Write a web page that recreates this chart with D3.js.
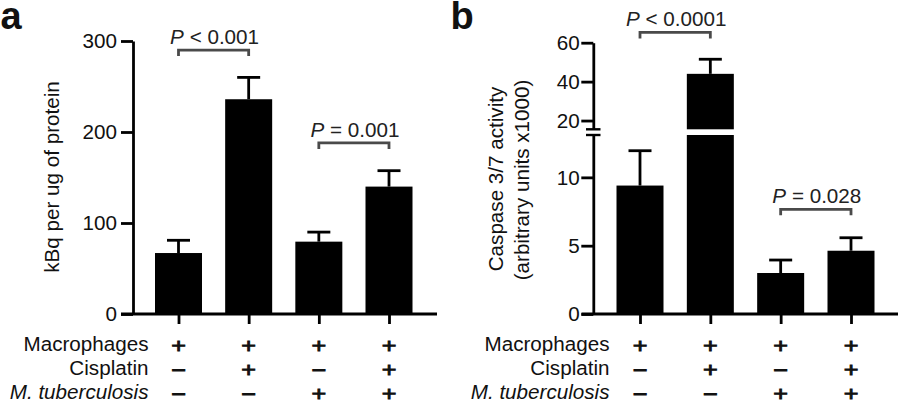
<!DOCTYPE html>
<html><head><meta charset="utf-8">
<script src="https://cdn.jsdelivr.net/npm/d3@7"></script>
<style>
body{margin:0;background:#fff}
svg{display:block}
</style>
</head><body><svg id="c" width="900" height="401"></svg>
<script>
// ---------- data ----------
const groups = ["G1", "G2", "G3", "G4"];
const conditionLabels = ["Macrophages", "Cisplatin", "M. tuberculosis"];
const macrophageSigns = ["+", "+", "+", "+"];
const cisplatinSigns = ["−", "+", "−", "+"];
const tuberculosisSigns = ["−", "−", "+", "+"];

const uptakeMean = [67, 236, 79.5, 140];
const uptakeSEM = [14, 24, 10.5, 17.5];
const uptakeTicks = [0, 100, 200, 300];
const uptakeLabel = "kBq per ug of protein";

const caspaseMean = [9.4, 44, 3.0, 4.63];
const caspaseSEM = [2.55, 7.5, 0.95, 0.95];
const caspaseLowerTicks = [0, 5, 10];
const caspaseUpperTicks = [20, 40, 60];
const caspaseLabel = ["Caspase 3/7 activity", "(arbitrary units x1000)"];

const uptakeComparisons = [[0, 1, "< 0.001", 290], [2, 3, "= 0.001", 188]];
const caspaseComparisons = [[0, 1, "< 0.0001", 65.3], [2, 3, "= 0.028", 7.66]];

// ---------- setup ----------
const FONT = "'Liberation Sans', Arial, Helvetica, sans-serif";
const FS = 19.3, SX = 1.07, TXT = "#111", BR = "#4a4a4a", LW = 2.8;
const svg = d3.select("#c");

function label(g, x, y, str, anchor, italic, rot, size, sx) {
  const t = g.append("text")
    .attr("transform", `translate(${x},${y})${rot ? " rotate(-90)" : ""} scale(${sx || SX},1)`)
    .attr("text-anchor", anchor).attr("font-family", FONT).attr("font-size", size || FS)
    .attr("fill", TXT).text(str);
  if (italic) t.attr("font-style", "italic");
  return t;
}

function styleYAxis(g, pad) {
  g.select(".domain").attr("stroke", "#000").attr("stroke-width", LW);
  g.selectAll(".tick line").attr("stroke", "#000").attr("stroke-width", LW);
  g.selectAll(".tick text").attr("x", null).attr("dy", "0.35em")
    .attr("transform", `translate(${-(12 + pad)},0) scale(${SX},1)`)
    .attr("font-family", FONT).attr("font-size", FS).attr("fill", TXT);
}

function xAxis(x, x0, x1) {
  svg.append("line").attr("x1", x0).attr("x2", x1).attr("y1", 314).attr("y2", 314)
    .attr("stroke", "#000").attr("stroke-width", LW);
  const g = svg.append("g").attr("transform", "translate(0,314)")
    .call(d3.axisBottom(x).tickSize(10).tickFormat(""));
  g.select(".domain").remove();
  g.selectAll(".tick line").attr("stroke", "#000").attr("stroke-width", LW);
}

function rows(x, right) {
  const ys = [350.5, 375, 398.5];
  const signs = [macrophageSigns, cisplatinSigns, tuberculosisSigns];
  conditionLabels.forEach((c, i) => {
    label(svg, right, ys[i], c, "end", i === 2);
    groups.forEach((gname, j) => label(svg, x(gname), ys[i] + 2, signs[i][j], "middle", false, false, 21, 1.2)
      .attr("stroke", TXT).attr("stroke-width", 0.9));
  });
}

function errorBar(cx, yMean, yTop) {
  svg.append("line").attr("x1", cx).attr("x2", cx).attr("y1", yMean).attr("y2", yTop)
    .attr("stroke", "#000").attr("stroke-width", LW);
  svg.append("line").attr("x1", cx - 11.5).attr("x2", cx + 11.5).attr("y1", yTop).attr("y2", yTop)
    .attr("stroke", "#000").attr("stroke-width", LW);
}

function bracket(xa, xb, y, text) {
  svg.append("path").attr("d", `M${xa},${y + 6}V${y}H${xb}V${y + 6}`)
    .attr("fill", "none").attr("stroke", BR).attr("stroke-width", LW);
  const t = svg.append("text")
    .attr("transform", `translate(${(xa + xb) / 2 + 1},${y - 6.3}) scale(${SX},1)`)
    .attr("text-anchor", "middle").attr("font-family", FONT).attr("font-size", FS).attr("fill", "#222");
  t.append("tspan").attr("font-style", "italic").text("P");
  t.append("tspan").text(" " + text);
}

const BW = 47;

// ---------- panel a ----------
svg.append("text").attr("x", 0.5).attr("y", 29).attr("font-family", FONT)
  .attr("font-weight", "bold").attr("font-size", 38).attr("fill", "#111").text("a");

const xa = d3.scalePoint(groups, [178.5, 389]);
const ya = d3.scaleLinear([0, 300], [314, 41]);

svg.selectAll(".barA").data(uptakeMean).join("rect").attr("class", "barA")
  .attr("x", (d, i) => xa(groups[i]) - BW / 2).attr("width", BW)
  .attr("y", d => ya(d)).attr("height", d => ya(0) - ya(d)).attr("fill", "#000");
uptakeMean.forEach((m, i) => errorBar(xa(groups[i]), ya(m), ya(m + uptakeSEM[i])));

const gya = svg.append("g").attr("transform", "translate(133,0)")
  .call(d3.axisLeft(ya).tickValues(uptakeTicks).tickSize(12).tickSizeOuter(0));
styleYAxis(gya, 4);
xAxis(xa, 121, 437);
label(svg, 59, 177, uptakeLabel, "middle", false, true);
uptakeComparisons.forEach(([i, j, t, v]) => bracket(xa(groups[i]), xa(groups[j]), ya(v), t));
rows(xa, 148.5);

// ---------- panel b ----------
svg.append("text").attr("x", 450.5).attr("y", 29).attr("font-family", FONT)
  .attr("font-weight", "bold").attr("font-size", 38).attr("fill", "#111").text("b");

const xb = d3.scalePoint(groups, [640, 851]);
const yLow = d3.scaleLinear([0, 13.1], [314, 135]);
const yUp = d3.scaleLinear([15.5, 60], [129.3, 42.7]);
const LOWMAX = 13.1, UPMIN = 15.5;
const yb = v => (v <= LOWMAX ? yLow(v) : yUp(v));

caspaseMean.forEach((m, i) => {
  const cx = xb(groups[i]);
  if (m <= LOWMAX) {
    svg.append("rect").attr("x", cx - BW / 2).attr("width", BW)
      .attr("y", yLow(m)).attr("height", yLow(0) - yLow(m)).attr("fill", "#000");
  } else {
    svg.append("rect").attr("x", cx - BW / 2).attr("width", BW)
      .attr("y", yLow(LOWMAX)).attr("height", yLow(0) - yLow(LOWMAX)).attr("fill", "#000");
    svg.append("rect").attr("x", cx - BW / 2).attr("width", BW)
      .attr("y", yUp(m)).attr("height", yUp(UPMIN) - yUp(m)).attr("fill", "#000");
  }
  errorBar(cx, yb(m), yb(m + caspaseSEM[i]));
});

const gyl = svg.append("g").attr("transform", "translate(593.3,0)")
  .call(d3.axisLeft(yLow).tickValues(caspaseLowerTicks).tickSize(12).tickSizeOuter(0));
styleYAxis(gyl, 1.5);
const gyu = svg.append("g").attr("transform", "translate(593.3,0)")
  .call(d3.axisLeft(yUp).tickValues(caspaseUpperTicks).tickSize(12).tickSizeOuter(0));
styleYAxis(gyu, 1.5);
[yUp(UPMIN), yLow(LOWMAX)].forEach(y =>
  svg.append("line").attr("x1", 586).attr("x2", 600.5).attr("y1", y).attr("y2", y)
    .attr("stroke", "#000").attr("stroke-width", 2.4));
xAxis(xb, 581.5, 898);
label(svg, 503, 179, caspaseLabel[0], "middle", false, true);
label(svg, 529, 180, caspaseLabel[1], "middle", false, true);
caspaseComparisons.forEach(([i, j, t, v]) => bracket(xb(groups[i]), xb(groups[j]), yb(v), t));
rows(xb, 609.5);
</script>
</body></html>
